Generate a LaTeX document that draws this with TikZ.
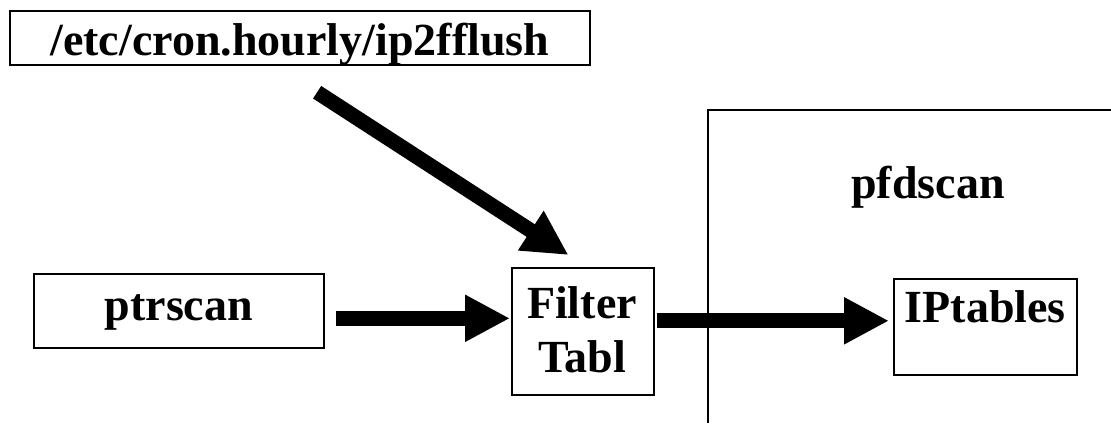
\documentclass[tikz,border=0pt]{standalone}
\usepackage{fontspec}
\setmainfont{Liberation Serif}
\usetikzlibrary{arrows.meta}
\begin{document}
\begin{tikzpicture}[x=1pt,y=-1pt,
  box/.style={draw, line width=1.6pt, inner sep=0pt, anchor=north west,
    font=\fontsize{46}{54}\selectfont\bfseries},
  lbl/.style={inner sep=0pt, anchor=base, font=\fontsize{46}{54}\selectfont\bfseries},
  frame/.style={draw, line width=1.6pt},
  bigarrow/.style={line width=15pt, line cap=butt, -{Triangle[length=45pt,width=44pt]}}]
\useasboundingbox (0,0) rectangle (1111,423);
% group frame (pfdscan)
\draw[frame] (708,423) -- (708,110) -- (1111,110);
\node[lbl] (pfdscan) at (928,198) {pfdscan};
% boxes
\node[box, minimum width=580pt, text height=45pt, text depth=9pt] (cron) at (9,10) {/etc/cron.hourly/ip2fflush};
\node[box, minimum width=290pt, text height=47pt, text depth=27pt] (ptrscan) at (33,273) {ptrscan};
\node[box, minimum width=142pt, minimum height=127pt] (filter) at (511,267) {};
\node[lbl] (filterA) at (582,318) {Filter};
\node[lbl] (filterB) at (582,372) {Tabl};
\node[box, minimum width=183pt, text height=44pt, text depth=52pt] (iptables) at (893,278) {IPtables};
% arrows
\draw[bigarrow, shorten <=49pt, shorten >=22pt] ([xshift=267pt]cron.south west) -- ([xshift=76pt]filter.north west);
\draw[bigarrow, shorten <=11pt, shorten >=1pt] ([yshift=-7.5pt]ptrscan.east) -- ([yshift=-7.5pt]ptrscan.east -| filter.west);
\draw[bigarrow, shorten <=2pt, shorten >=4pt] ([yshift=10.5pt]filter.east) -- ([yshift=10.5pt]filter.east -| iptables.west);
\end{tikzpicture}
\end{document}
